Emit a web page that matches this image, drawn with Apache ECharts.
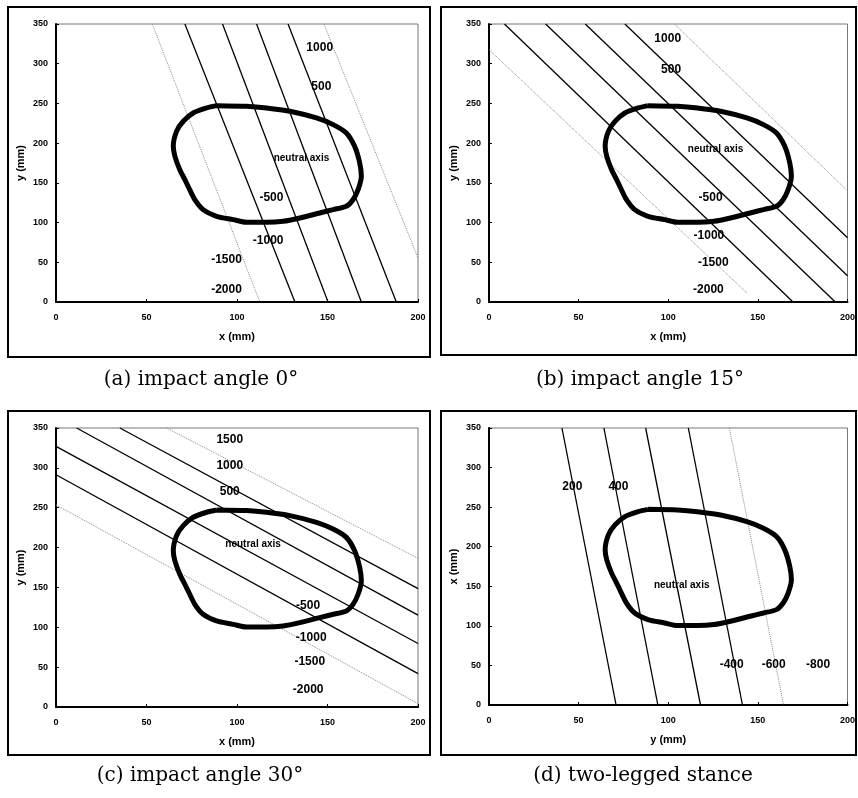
<!DOCTYPE html>
<html>
<head>
<meta charset="utf-8">
<script src="https://cdn.jsdelivr.net/npm/echarts@6/dist/echarts.min.js"></script>
<style>
html,body{margin:0;padding:0;background:#fff;}
#chart{width:858px;height:798px;}
</style>
</head>
<body>
<div id="chart"></div>
<script>
// ---- axis ticks ----
const xTicks = [0, 50, 100, 150, 200];
const yTicks = [0, 50, 100, 150, 200, 250, 300, 350];

// ---- foot outline (mm) ----
const footOutline = [
  [88.7,247.2],[105.2,246.4],[116.3,244.3],[129.2,240.1],[143.9,231.7],[153.1,223.3],
  [160.4,212.8],[165.0,196.0],[167.8,175.0],[168.7,158.2],[166.9,141.4],[164.1,128.8],
  [160.4,120.5],[153.1,116.3],[145.7,112.1],[134.7,105.8],[125.5,101.6],[116.3,100.3],
  [105.2,100.3],[97.9,103.7],[88.7,107.9],[81.3,116.3],[76.7,128.8],[73.0,145.6],
  [71.2,154.0],[68.4,166.6],[65.7,183.4],[64.8,196.0],[66.6,214.9],[70.3,227.5],
  [75.8,238.0],[83.2,244.3],[88.7,247.2]
];

// ---- (a) impact angle 0 ----
const aContours = [
  [[53.2,350],[112.6,0]],
  [[71.2,350],[132,0]],
  [[92,350],[150.3,0]],
  [[110.8,350],[168.7,0]],
  [[128.2,350],[188,0]],
  [[148,350],[200,55.4]]
];
const aDotted = [true,false,false,false,false,true];
const aLabels = ['1000','500','neutral axis','-500','-1000','-1500','-2000'];
const aLabelPos = [[145.7,319.8],[146.6,270.7],[135.6,181.3],[119,131],[117.2,77.6],[94.2,53.3],[94.2,15.5]];

// ---- (b) impact angle 15 ----
const bContours = [
  [[0,317.7],[143.9,11.3]],
  [[8.6,350],[169.6,0]],
  [[31.6,350],[193.2,0]],
  [[53.7,350],[200,33]],
  [[75.8,350],[200,81]],
  [[103.4,350],[200,140]]
];
const bDotted = [true,false,false,false,false,true];
const bLabels = ['1000','500','neutral axis','-500','-1000','-1500','-2000'];
const bLabelPos = [[99.7,331],[101.6,292.5],[126.4,191.8],[123.6,131],[122.7,83.5],[125.1,49.1],[122.4,15.5]];

// ---- (c) impact angle 30 ----
const cContours = [
  [[61.1,350],[200,186.5]],
  [[35.3,350],[200,148.5]],
  [[11.4,350],[200,115.3]],
  [[0,327],[200,79.6]],
  [[0,291.3],[200,41.9]],
  [[0,253.6],[200,4.2]]
];
const cDotted = [true,false,false,false,false,true];
const cLabels = ['1500','1000','500','neutral axis','-500','-1000','-1500','-2000'];
const cLabelPos = [[96,335],[96,303],[96,269.5],[108.9,204.6],[139.3,127],[141,86.8],[140.2,56.6],[139.3,22.2]];

// ---- (d) two-legged stance ----
const dContours = [
  [[40.7,350],[70.9,0]],
  [[64.1,350],[94.2,0]],
  [[87.4,350],[118,0]],
  [[111.2,350],[141.4,0]],
  [[134.1,350],[164.3,0]]
];
const dDotted = [false,false,false,false,true];
const dLabels = ['200','400','neutral axis','-400','-600','-800'];
const dLabelPos = [[46.5,276],[72.2,276],[107.5,151.8],[135.4,51.4],[158.8,51.4],[183.6,51.4]];

const captions = ['(a) impact angle 0°','(b) impact angle 15°','(c) impact angle 30°','(d) two-legged stance'];
const xNames = ['x (mm)','x (mm)','x (mm)','y (mm)'];
const yNames = ['y (mm)','y (mm)','y (mm)','x (mm)'];

// ---- layout ----
const grids = [
  {left:56, top:24, width:362, height:278},
  {left:489, top:24, width:363, height:278},
  {left:56, top:428, width:362, height:279},
  {left:489, top:428, width:364, height:277}
];
const frames = [[8,7,422,350],[441,7,415,348],[8,411,422,344],[441,411,415,344]];
const capPos = [[201,380],[640,380],[200,776],[643,776]];

const panels = [
  {c:aContours, d:aDotted, l:aLabels, p:aLabelPos},
  {c:bContours, d:bDotted, l:bLabels, p:bLabelPos},
  {c:cContours, d:cDotted, l:cLabels, p:cLabelPos},
  {c:dContours, d:dDotted, l:dLabels, p:dLabelPos}
];

const tickFont = {fontFamily:'Liberation Sans', fontWeight:'bold', fontSize:9, color:'#000'};

const xAxes = [], yAxes = [], series = [];
panels.forEach((pn, i) => {
  xAxes.push({
    gridIndex:i, type:'value', min:xTicks[0], max:xTicks[xTicks.length-1],
    interval:xTicks[1]-xTicks[0],
    name:xNames[i], nameLocation:'middle', nameGap:29,
    nameTextStyle:{fontFamily:'Liberation Sans', fontWeight:'bold', fontSize:11, color:'#000'},
    axisLine:{show:true, onZero:false, lineStyle:{color:'#000', width:2}},
    axisTick:{show:true, inside:true, length:3, lineStyle:{color:'#000'}},
    axisLabel:Object.assign({margin:11}, tickFont),
    splitLine:{show:false}
  });
  yAxes.push({
    gridIndex:i, type:'value', min:yTicks[0], max:yTicks[yTicks.length-1],
    interval:yTicks[1]-yTicks[0],
    name:yNames[i], nameLocation:'middle', nameGap:30,
    nameTextStyle:{fontFamily:'Liberation Sans', fontWeight:'bold', fontSize:11, color:'#000'},
    axisLine:{show:true, onZero:false, lineStyle:{color:'#000', width:2}},
    axisTick:{show:true, inside:true, length:3, lineStyle:{color:'#000'}},
    axisLabel:Object.assign({margin:8}, tickFont),
    splitLine:{show:false}
  });
  pn.c.forEach((seg, k) => {
    series.push({
      type:'line', xAxisIndex:i, yAxisIndex:i, data:seg, symbol:'none', silent:true,
      lineStyle: pn.d[k] ? {color:'#8a8a8a', width:1, type:'dotted'} : {color:'#000', width:1.3}
    });
  });
  series.push({
    type:'line', xAxisIndex:i, yAxisIndex:i, data:footOutline, symbol:'none', silent:true,
    smooth:0.25, lineStyle:{color:'#000', width:5}, z:5
  });
  series.push({
    type:'scatter', xAxisIndex:i, yAxisIndex:i, symbolSize:1, silent:true, z:6,
    itemStyle:{color:'#fff', opacity:0},
    data:pn.p.map((pt, j) => ({
      value:pt, name:pn.l[j],
      label: pn.l[j] === 'neutral axis' ? {fontSize:10} : undefined
    })),
    label:{
      show:true, position:'inside', opacity:1,
      formatter:(prm) => prm.name,
      fontFamily:'Liberation Sans', fontWeight:'bold', color:'#000',
      textBorderWidth:0, fontSize:12
    }
  });
});

const graphic = [];
frames.forEach(f => {
  graphic.push({type:'rect', shape:{x:f[0], y:f[1], width:f[2], height:f[3]},
    style:{fill:'none', stroke:'#000', lineWidth:2}, silent:true});
});
captions.forEach((t, i) => {
  graphic.push({type:'text', x:capPos[i][0], y:capPos[i][1],
    style:{text:t, fill:'#000', font:'20px "DejaVu Serif"', textAlign:'center', textVerticalAlign:'middle'},
    silent:true});
});

const chart = echarts.init(document.getElementById('chart'), null, {renderer:'canvas'});
chart.setOption({
  animation:false,
  backgroundColor:'#fff',
  grid:grids.map(g => Object.assign({show:true, borderColor:'#777', borderWidth:1, backgroundColor:'#fff'}, g)),
  xAxis:xAxes,
  yAxis:yAxes,
  series:series,
  graphic:graphic
});
</script>
</body>
</html>
